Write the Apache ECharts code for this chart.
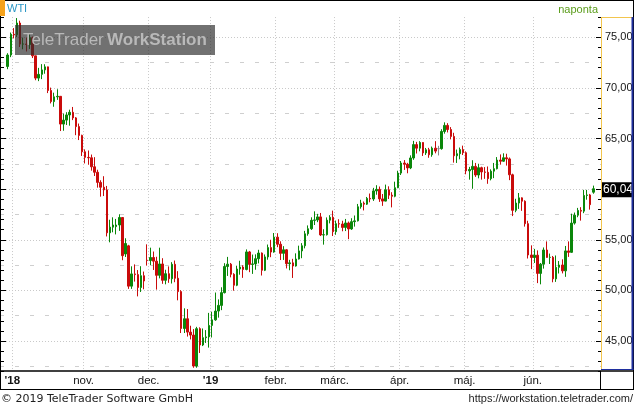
<!DOCTYPE html>
<html><head><meta charset="utf-8">
<script src="https://cdn.jsdelivr.net/npm/echarts@6/dist/echarts.min.js"></script>
<style>html,body{margin:0;padding:0;background:#fff}#c{width:635px;height:408px}</style>
</head><body><div id="c"></div>
<script>
// ---------------- data ----------------
const dates = [
'2018-09-28',
'2018-10-01','2018-10-02','2018-10-03','2018-10-04','2018-10-05','2018-10-08','2018-10-09','2018-10-10','2018-10-11','2018-10-12','2018-10-15','2018-10-16','2018-10-17','2018-10-18','2018-10-19','2018-10-22','2018-10-23','2018-10-24','2018-10-25','2018-10-26','2018-10-29','2018-10-30','2018-10-31',
'2018-11-01','2018-11-02','2018-11-05','2018-11-06','2018-11-07','2018-11-08','2018-11-09','2018-11-12','2018-11-13','2018-11-14','2018-11-15','2018-11-16','2018-11-19','2018-11-20','2018-11-21','2018-11-23','2018-11-26','2018-11-27','2018-11-28','2018-11-29','2018-11-30',
'2018-12-03','2018-12-04','2018-12-05','2018-12-06','2018-12-07','2018-12-10','2018-12-11','2018-12-12','2018-12-13','2018-12-14','2018-12-17','2018-12-18','2018-12-19','2018-12-20','2018-12-21','2018-12-24','2018-12-26','2018-12-27','2018-12-28','2018-12-31',
'2019-01-02','2019-01-03','2019-01-04','2019-01-07','2019-01-08','2019-01-09','2019-01-10','2019-01-11','2019-01-14','2019-01-15','2019-01-16','2019-01-17','2019-01-18','2019-01-22','2019-01-23','2019-01-24','2019-01-25','2019-01-28','2019-01-29','2019-01-30','2019-01-31',
'2019-02-01','2019-02-04','2019-02-05','2019-02-06','2019-02-07','2019-02-08','2019-02-11','2019-02-12','2019-02-13','2019-02-14','2019-02-15','2019-02-19','2019-02-20','2019-02-21','2019-02-22','2019-02-25','2019-02-26','2019-02-27','2019-02-28',
'2019-03-01','2019-03-04','2019-03-05','2019-03-06','2019-03-07','2019-03-08','2019-03-11','2019-03-12','2019-03-13','2019-03-14','2019-03-15','2019-03-18','2019-03-19','2019-03-20','2019-03-21','2019-03-22','2019-03-25','2019-03-26','2019-03-27','2019-03-28','2019-03-29',
'2019-04-01','2019-04-02','2019-04-03','2019-04-04','2019-04-05','2019-04-08','2019-04-09','2019-04-10','2019-04-11','2019-04-12','2019-04-15','2019-04-16','2019-04-17','2019-04-18','2019-04-22','2019-04-23','2019-04-24','2019-04-25','2019-04-26','2019-04-29','2019-04-30',
'2019-05-01','2019-05-02','2019-05-03','2019-05-06','2019-05-07','2019-05-08','2019-05-09','2019-05-10','2019-05-13','2019-05-14','2019-05-15','2019-05-16','2019-05-17','2019-05-20','2019-05-21','2019-05-22','2019-05-23','2019-05-24','2019-05-28','2019-05-29','2019-05-30','2019-05-31',
'2019-06-03','2019-06-04','2019-06-05','2019-06-06','2019-06-07','2019-06-10','2019-06-11','2019-06-12','2019-06-13','2019-06-14','2019-06-17','2019-06-18','2019-06-19','2019-06-20','2019-06-21','2019-06-24','2019-06-25','2019-06-26','2019-06-27','2019-06-28',
'2019-07-01'
];
const opens = [
72.12,
73.25,75.30,75.26,76.41,74.33,74.34,74.29,74.96,73.17,70.97,71.34,71.78,72.08,69.75,68.65,69.12,69.17,66.43,66.82,67.33,67.59,67.04,66.18,
65.31,63.69,63.14,63.10,62.21,61.67,60.67,60.19,59.93,55.69,56.25,56.30,56.46,57.20,53.60,54.40,50.42,51.63,51.56,50.29,51.45,
52.98,52.95,53.25,52.89,51.49,52.61,51.00,51.65,51.15,52.58,51.20,49.88,46.24,47.20,45.88,45.59,42.53,46.22,44.61,45.33,
45.41,46.54,47.09,47.96,48.52,49.78,52.36,52.59,51.59,50.51,52.11,52.31,52.07,53.80,52.57,52.62,53.13,53.69,51.99,53.31,54.23,
53.79,55.26,54.56,53.66,54.01,52.64,52.72,52.41,53.10,53.90,54.41,55.59,56.09,56.92,56.96,57.26,55.48,55.50,56.94,
57.22,55.80,56.59,56.56,56.22,56.66,56.07,56.79,56.87,58.26,58.61,58.52,59.09,59.03,59.83,59.98,59.04,58.82,59.94,59.41,59.30,
60.14,61.59,62.58,62.46,62.10,63.08,64.40,64.05,64.61,63.58,63.89,63.40,64.05,64.00,64.00,65.70,66.30,65.89,65.21,63.30,63.50,
63.91,63.60,61.81,61.94,62.25,61.40,62.12,61.70,61.66,61.04,61.78,62.02,62.87,62.76,63.10,62.99,61.42,57.91,58.63,59.14,58.81,56.59,
53.50,53.25,53.48,51.68,52.59,53.99,53.26,53.27,51.14,52.28,52.51,51.93,53.90,53.76,56.65,57.43,57.90,57.83,59.38,59.43,
59.70
];
const highs = [
73.43,
75.47,75.91,76.90,76.64,74.97,74.98,75.27,75.08,73.19,71.98,72.35,72.34,72.10,70.03,69.53,69.87,69.20,67.46,67.60,67.85,68.12,67.12,66.48,
65.38,63.93,63.82,63.42,63.16,61.92,60.88,61.28,60.32,56.98,57.22,57.06,57.52,57.25,55.15,54.50,52.38,52.57,52.01,52.39,51.86,
54.55,54.22,53.84,53.32,54.22,53.18,52.04,52.37,52.79,52.95,51.90,50.02,48.23,48.16,46.51,46.18,46.40,46.35,46.24,46.08,
47.78,47.90,49.79,49.11,50.31,52.69,53.31,52.71,51.70,52.44,52.93,52.48,54.05,53.90,53.54,53.56,54.01,53.75,53.55,54.53,55.00,
55.67,55.65,54.85,54.37,54.07,53.02,53.12,53.66,54.42,54.67,55.88,56.42,57.22,57.81,57.56,57.65,56.04,57.21,57.43,
57.88,56.90,57.03,56.88,57.06,56.80,57.13,57.40,58.54,58.95,58.78,59.23,59.57,60.13,60.39,60.26,59.52,60.45,60.28,59.70,60.74,
61.82,62.78,62.87,62.60,63.34,64.77,64.67,64.74,64.63,64.07,64.08,64.21,64.74,64.28,65.92,66.60,66.52,66.13,65.57,63.91,64.11,
64.30,63.73,62.20,62.86,62.59,62.51,62.22,62.18,62.24,61.96,62.59,63.17,63.43,63.54,63.50,63.13,61.53,59.05,59.62,59.19,58.90,56.88,
54.45,54.10,53.95,52.71,54.24,54.84,53.64,53.40,53.45,52.90,53.07,54.39,54.84,57.58,57.69,58.15,58.22,59.93,59.93,59.53,
60.35
];
const lows = [
71.85,
73.04,74.89,75.02,74.04,73.82,73.60,73.85,72.95,70.76,70.67,70.87,71.40,69.49,68.47,68.14,68.82,65.74,65.77,66.34,66.27,66.82,65.33,64.85,
63.28,62.54,62.41,61.83,61.30,60.15,59.26,59.32,55.33,54.75,55.74,55.53,55.88,52.98,53.30,50.15,50.15,50.87,49.41,49.84,50.11,
52.45,52.51,52.02,50.08,51.19,50.65,50.60,50.75,50.68,50.81,49.02,45.79,45.79,45.44,45.16,42.36,42.36,43.82,44.50,44.81,
44.35,45.35,47.00,47.31,48.05,49.70,51.43,51.29,49.97,50.42,51.55,51.24,51.98,51.80,51.63,52.04,52.67,51.47,51.91,53.03,53.28,
53.72,54.27,53.00,53.01,52.17,51.99,51.23,52.35,53.05,53.18,54.15,55.40,55.97,56.46,56.74,55.37,54.52,55.42,56.62,
55.37,55.49,56.18,55.84,55.86,55.06,55.98,56.30,56.81,58.07,57.90,58.44,58.70,58.84,59.45,58.74,58.35,58.80,59.03,58.20,59.20,
60.10,61.40,61.90,61.57,61.98,62.90,63.52,63.74,63.28,63.38,63.10,63.20,63.54,63.33,63.90,65.48,65.60,64.92,62.62,62.59,62.95,
63.37,61.47,60.94,60.04,61.21,61.07,60.94,61.02,60.53,60.87,61.09,61.95,62.42,62.70,62.33,60.89,57.34,57.72,58.05,57.86,56.30,53.15,
52.10,52.71,50.72,50.60,52.15,53.22,52.61,50.80,50.84,51.67,51.68,51.34,53.31,53.71,56.50,57.23,56.89,57.63,58.96,57.98,
59.55
];
const closes = [
73.25,
75.30,75.23,76.41,74.33,74.34,74.29,74.96,73.17,70.97,71.34,71.78,72.08,69.75,68.65,69.12,69.17,66.43,66.82,67.33,67.59,67.04,66.18,65.31,
63.69,63.14,63.10,62.21,61.67,60.67,60.19,59.93,55.69,56.25,56.46,56.46,57.20,53.43,54.63,50.42,51.63,51.56,50.29,51.45,50.93,
52.95,53.25,52.89,51.49,52.61,51.00,51.65,51.15,52.58,51.20,49.88,46.24,47.20,45.88,45.59,42.53,46.22,44.61,45.33,45.41,
46.54,47.09,47.96,48.52,49.78,52.36,52.59,51.59,50.51,52.11,52.31,52.07,53.80,52.57,52.62,53.13,53.69,51.99,53.31,54.23,53.79,
55.26,54.56,53.66,54.01,52.64,52.72,52.41,53.10,53.90,54.41,55.59,56.09,56.92,56.96,57.26,55.48,55.50,56.94,57.22,
55.80,56.59,56.56,56.22,56.66,56.07,56.79,56.87,58.26,58.61,58.52,59.09,59.03,59.83,59.98,59.04,58.82,59.94,59.41,59.30,60.14,
61.59,62.58,62.46,62.10,63.08,64.40,64.05,64.61,63.58,63.89,63.40,64.05,63.76,64.00,65.70,66.30,65.89,65.21,63.30,63.50,63.91,
63.60,61.81,61.94,62.25,61.40,62.12,61.70,61.66,61.04,61.78,62.02,62.87,62.76,63.10,62.99,61.42,57.91,58.63,59.14,58.81,56.59,53.50,
53.25,53.48,51.68,52.59,53.99,53.26,53.27,51.14,52.28,52.51,51.93,53.90,53.76,56.65,57.43,57.90,57.83,59.38,59.43,58.47,
60.04
];
const monthStarts = ['2018-10-01','2018-11-01','2018-12-03','2019-01-02','2019-02-01','2019-03-01','2019-04-01','2019-05-01','2019-06-03'];
const monthLabels = ["'18",'nov.','dec.',"'19",'febr.','márc.','ápr.','máj.','jún.'];
const yearLabels = ["'18","'19"];
const lastValue = 60.04;
const title = 'WTI';
const periodText = 'naponta';
const footerLeft = '\u00a9 2019 TeleTrader Software GmbH';
const footerRight = 'https://workstation.teletrader.com/';

// ---------------- build ----------------
const PAD_BEFORE = 2, PAD_AFTER = 2;
const cats = [];
for (let i = 0; i < PAD_BEFORE; i++) cats.push('pre' + i);
dates.forEach(d => cats.push(d));
for (let i = 0; i < PAD_AFTER; i++) cats.push('post' + i);
const candleData = cats.map((c, i) => {
  const k = i - PAD_BEFORE;
  return (k >= 0 && k < dates.length) ? [opens[k], closes[k], lows[k], highs[k]] : ['-', '-', '-', '-'];
});
const labelAt = new Map(monthStarts.map((d, i) => [cats.indexOf(d), monthLabels[i]]));
const splitAt = new Set(monthStarts.map(d => cats.indexOf(d) + 1));
const fmt = v => v.toFixed(2).replace('.', ',');

const GREEN = '#0a870a', RED = '#c90b0b';
const FONT = '"Liberation Sans", Arial, sans-serif';
const GRID_LR = {left: 0, right: 34, outerBoundsMode: 'none'};

const chart = echarts.init(document.getElementById('c'), null, {renderer: 'canvas'});
chart.setOption({
  animation: false,
  backgroundColor: '#fff',
  textStyle: {fontFamily: FONT},
  grid: [
    Object.assign({top: 17.05, bottom: 36.6}, GRID_LR),   // data grid 42..77
    Object.assign({top: 37.3, bottom: 67}, GRID_LR),      // major grid 45..75
    Object.assign({top: 62.6, bottom: 41.7}, GRID_LR)     // half-step grid 42.5..72.5
  ],
  xAxis: [
    {
      type: 'category', gridIndex: 0, data: cats, boundaryGap: true,
      axisLine: {show: false}, axisTick: {show: false},
      axisLabel: {
        interval: (i) => labelAt.has(i),
        formatter: (v, i) => {
          const t = labelAt.get(i) || '';
          return yearLabels.includes(t) ? '{b|' + t + '}' : t;
        },
        margin: 3, fontSize: 11.5, color: '#141414', fontFamily: FONT, padding: [0, 0, 0, 3],
        rich: {b: {fontWeight: 'bold', fontSize: 11.5, color: '#141414', fontFamily: FONT}}
      },
      splitLine: {show: true, interval: (i) => splitAt.has(i), lineStyle: {color: '#c9c9c9', type: [1, 2], width: 1}}
    },
    {type: 'category', gridIndex: 1, data: cats, show: false},
    {type: 'category', gridIndex: 2, data: cats, show: false}
  ],
  yAxis: [
    { // minor ticks right
      type: 'value', gridIndex: 0, position: 'right', min: 42, max: 77, interval: 1,
      axisLine: {show: false}, axisLabel: {show: false}, splitLine: {show: false},
      axisTick: {show: true, inside: true, length: 3, lineStyle: {color: '#000', width: 1}}
    },
    { // minor ticks left
      type: 'value', gridIndex: 0, position: 'left', min: 42, max: 77, interval: 1,
      axisLine: {show: false}, axisLabel: {show: false}, splitLine: {show: false},
      axisTick: {show: true, inside: true, length: 4, lineStyle: {color: '#000', width: 1}}
    },
    { // major ticks, labels, dotted lines
      type: 'value', gridIndex: 1, position: 'right', min: 45, max: 75, interval: 5,
      axisLine: {show: false},
      axisTick: {show: true, inside: true, length: 5, lineStyle: {color: '#000', width: 1}},
      axisLabel: {show: true, margin: 4, fontSize: 11, color: '#141414', fontFamily: FONT, formatter: v => fmt(v)},
      splitLine: {show: true, lineStyle: {color: '#c9c9c9', type: [1, 2], width: 1}}
    },
    { // major ticks left
      type: 'value', gridIndex: 1, position: 'left', min: 45, max: 75, interval: 5,
      axisLine: {show: false}, axisLabel: {show: false}, splitLine: {show: false},
      axisTick: {show: true, inside: true, length: 6, lineStyle: {color: '#000', width: 1}}
    },
    { // dashed half-step lines
      type: 'value', gridIndex: 2, position: 'right', min: 42.5, max: 72.5, interval: 5,
      axisLine: {show: false}, axisLabel: {show: false}, axisTick: {show: false},
      splitLine: {show: true, lineStyle: {color: '#cfcfcf', type: [4, 11], width: 1}}
    }
  ],
  series: [{
    type: 'candlestick', xAxisIndex: 0, yAxisIndex: 0, data: candleData,
    barWidth: 2, z: 3,
    itemStyle: {color: GREEN, color0: RED, borderColor: GREEN, borderColor0: RED, borderColorDoji: '#8a8a8a', borderWidth: 1},
    markLine: {
      silent: true, symbol: ['none', 'none'], animation: false, z: 20,
      lineStyle: {color: 'rgba(0,0,0,0)', width: 1, type: 'solid'},
      emphasis: {disabled: true},
      data: [{yAxis: lastValue}],
      label: {show: true, position: 'end', distance: 1, formatter: fmt(lastValue), color: '#fff', backgroundColor: '#000',
              fontSize: 12, fontFamily: FONT, padding: [2, 1, 1, 1], offset: [0, 1]}
    }
  }],
  graphic: [
    // frame
    {type: 'line', z: 50, shape: {x1: 0, y1: 0.5, x2: 634, y2: 0.5}, style: {stroke: '#000', lineWidth: 1}},
    {type: 'line', z: 50, shape: {x1: 0.5, y1: 0, x2: 0.5, y2: 390}, style: {stroke: '#000', lineWidth: 1}},
    {type: 'line', z: 50, shape: {x1: 633.5, y1: 0, x2: 633.5, y2: 390}, style: {stroke: '#000', lineWidth: 1}},
    {type: 'line', z: 50, shape: {x1: 0, y1: 371, x2: 634, y2: 371}, style: {stroke: '#000', lineWidth: 1.6}},
    {type: 'line', z: 50, shape: {x1: 0, y1: 389.5, x2: 634, y2: 389.5}, style: {stroke: '#000', lineWidth: 1}},
    {type: 'line', z: 50, shape: {x1: 600.5, y1: 371, x2: 600.5, y2: 390}, style: {stroke: '#000', lineWidth: 1}},
    // price axis box
    {type: 'line', z: 51, shape: {x1: 601.5, y1: 17, x2: 601.5, y2: 369}, style: {stroke: '#f2c54e', lineWidth: 1}},
    {type: 'line', z: 51, shape: {x1: 601, y1: 17.5, x2: 632, y2: 17.5}, style: {stroke: '#f2c54e', lineWidth: 1}},
    {type: 'line', z: 51, shape: {x1: 632.5, y1: 17, x2: 632.5, y2: 370}, style: {stroke: '#1f2f9e', lineWidth: 2}},
    {type: 'line', z: 51, shape: {x1: 601, y1: 369.5, x2: 633.5, y2: 369.5}, style: {stroke: '#1f2f9e', lineWidth: 1}},
    // header
    {type: 'rect', z: 52, shape: {x: 0, y: 0, width: 5, height: 16}, style: {fill: '#f5a21c'}},
    {type: 'text', z: 52, x: 7, y: 9, style: {text: title, font: '11px ' + FONT, fill: '#2b97c6', verticalAlign: 'middle'}},
    {type: 'text', z: 52, x: 598, y: 9.5, style: {text: periodText, font: '11px ' + FONT, fill: '#5a9c1a', align: 'right', verticalAlign: 'middle'}},
    // footer
    {type: 'text', z: 52, x: 1, y: 399, style: {text: footerLeft, font: '11px "DejaVu Sans", Verdana, sans-serif', fill: '#1e1e1e', verticalAlign: 'middle'}},
    {type: 'text', z: 52, x: 633, y: 399, style: {text: footerRight, font: '11px ' + FONT, fill: '#1e1e1e', align: 'right', verticalAlign: 'middle'}},
    // watermark
    {type: 'rect', z: 60, shape: {x: 15, y: 25, width: 200, height: 30}, style: {fill: 'rgba(45,45,45,0.68)'}},
    {type: 'text', z: 61, x: 115, y: 40.5, style: {
      text: '{n|TeleTrader} {b|WorkStation}', align: 'center', verticalAlign: 'middle',
      rich: {n: {fontSize: 17, fontFamily: FONT, fill: '#b9b9b9', color: '#b9b9b9'},
             b: {fontSize: 17, fontFamily: FONT, fontWeight: 'bold', fill: '#b9b9b9', color: '#b9b9b9'}}
    }}
  ]
});
</script>
</body></html>
